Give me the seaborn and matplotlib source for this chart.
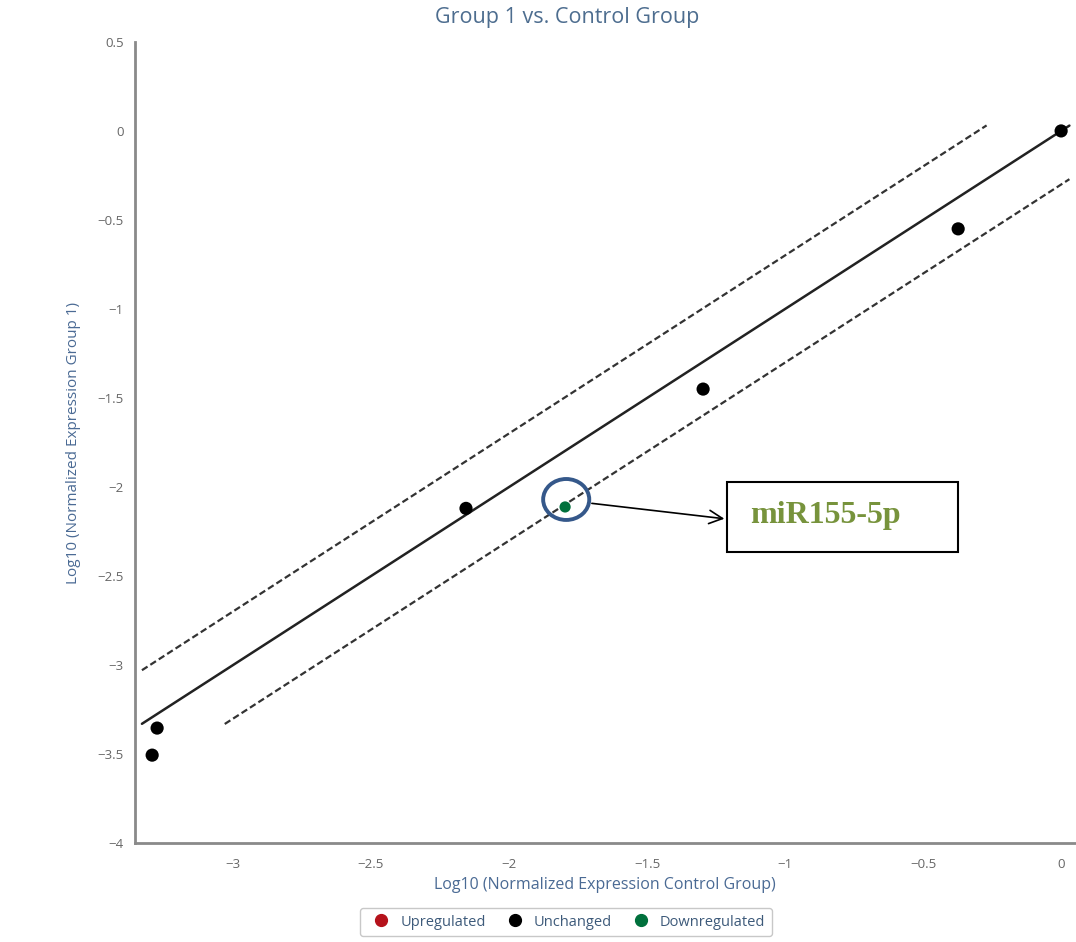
import matplotlib
matplotlib.use("Agg")
import matplotlib.pyplot as plt
from matplotlib.patches import Ellipse, Rectangle
from matplotlib.lines import Line2D
import seaborn as sns
import pandas as pd

# ---- data ----
control_log10 = [0.0, -0.373, -1.297, -2.156, -1.797, -3.275, -3.293]
group1_log10 = [0.0, -0.55, -1.45, -2.12, -2.112, -3.354, -3.506]
status = ["Unchanged", "Unchanged", "Unchanged", "Unchanged", "Downregulated",
          "Unchanged", "Unchanged"]
categories = ["Upregulated", "Unchanged", "Downregulated"]
cat_colors = ["#b5121b", "#000000", "#00703c"]
fold_offset = 0.301  # log10(2)
diag_x = [-3.33, 0.03]
upper_x = [-3.33, -0.27]
lower_x = [-3.03, 0.03]
x_ticks = [-3, -2.5, -2, -1.5, -1, -0.5, 0]
y_ticks = [0.5, 0, -0.5, -1, -1.5, -2, -2.5, -3, -3.5, -4]
highlight_label = "miR155-5p"

df = pd.DataFrame({"x": control_log10, "y": group1_log10, "status": status})

sns.set_style("white")
plt.rcParams["font.family"] = ["Open Sans", "DejaVu Sans"]


def fmt(t):
    return f"{t:g}".replace("-", "\u2212")


fig = plt.figure(figsize=(10.76, 9.42), dpi=100)
ax = fig.add_axes([0.1255, 0.105, 0.8735, 0.8505])

# reference lines
ax.plot(diag_x, diag_x, color="#222222", lw=1.8, zorder=2)
ax.plot(upper_x, [v + fold_offset for v in upper_x], color="#333333", lw=1.6,
        ls=(0, (3, 1.5)), zorder=2)
ax.plot(lower_x, [v - fold_offset for v in lower_x], color="#333333", lw=1.6,
        ls=(0, (3, 1.5)), zorder=2)

palette = dict(zip(categories, cat_colors))
sns.scatterplot(data=df[df.status == "Unchanged"], x="x", y="y", hue="status",
                palette=palette, s=90, edgecolor="none", legend=False, ax=ax, zorder=3)
sns.scatterplot(data=df[df.status == "Downregulated"], x="x", y="y", hue="status",
                palette=palette, s=65, edgecolor="none", legend=False, ax=ax, zorder=3)

ax.set_xlim(-3.355, 0.05)
ax.set_ylim(-4, 0.5)
ax.set_xticks(x_ticks)
ax.set_xticklabels([fmt(t) for t in x_ticks])
ax.set_yticks(y_ticks)
ax.set_yticklabels([fmt(t) for t in y_ticks])
ax.tick_params(axis="both", labelsize=9.5, colors="#c8d6e6", labelcolor="#666666",
               length=6, width=1, direction="out")
ax.tick_params(axis="x", pad=5)
ax.tick_params(axis="y", pad=2)

for s in ["top", "right"]:
    ax.spines[s].set_visible(False)
for s in ["left", "bottom"]:
    ax.spines[s].set_color("#8a8a8a")
    ax.spines[s].set_linewidth(2)

ax.set_xlabel("Log10 (Normalized Expression Control Group)", fontsize=11.5,
              color="#4a6a94", labelpad=4)
ax.set_ylabel("Log10 (Normalized Expression Group 1)", fontsize=11,
              color="#4a6a94", labelpad=12)

fig.text(567 / 1076, 1 - 17 / 942, "Group 1 vs. Control Group", ha="center",
         va="center", fontsize=15.5, color="#4d6d8f")

# highlight annotation
hx = df.loc[df.status == "Downregulated", "x"].iloc[0]
hy = df.loc[df.status == "Downregulated", "y"].iloc[0]
ax.add_patch(Ellipse((hx + 0.004, hy + 0.042), 0.167, 0.23, fill=False,
                     ec="#35588a", lw=2.8, zorder=4))
ax.add_patch(Rectangle((-1.210, -2.365), 0.837, 0.393, fill=False, ec="black",
                       lw=1.5, zorder=4))
ax.text(-1.127, -2.16, highlight_label, fontsize=23, fontweight="bold",
        family=["Liberation Serif", "DejaVu Serif"], color="#77933c",
        ha="left", va="center", zorder=5)
ax.annotate("", xy=(-1.210, -2.18), xytext=(-1.71, -2.09),
            arrowprops=dict(arrowstyle="->", color="black", lw=1.2,
                            mutation_scale=24), zorder=5)

# legend
handles = [Line2D([0], [0], marker="o", ls="", color=c, markersize=8.5)
           for c in cat_colors]
leg = fig.legend(handles, categories, loc="center", ncol=3,
                 bbox_to_anchor=(566 / 1076, 1 - 922 / 942), frameon=True,
                 fancybox=True, fontsize=10.5, handletextpad=0.3, columnspacing=1.0,
                 borderpad=0.45, edgecolor="#bbbbbb")
for t in leg.get_texts():
    t.set_color("#3d5a7a")

fig.savefig("out.png", dpi=100)
